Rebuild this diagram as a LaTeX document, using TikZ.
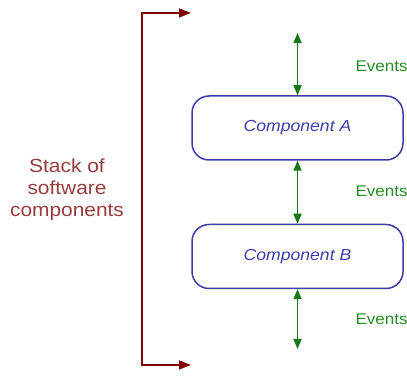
\documentclass[tikz,border=0pt]{standalone}
\usepackage{fontspec}
\setmainfont[FakeStretch=1.1]{Liberation Sans}
\usetikzlibrary{arrows.meta}
\usetikzlibrary{positioning}
\definecolor{stackred}{RGB}{128,0,0}
\definecolor{stacktext}{RGB}{150,60,60}
\definecolor{compblue}{RGB}{60,60,170}
\definecolor{eventgreen}{RGB}{20,120,20}
\definecolor{eventtext}{RGB}{40,140,40}
\tikzset{
    component/.style={draw=compblue, line width=1.5pt, rounded corners=17pt, minimum width=211pt, minimum height=64pt,
        text=compblue, font=\itshape\fontsize{16}{19}\selectfont},
    event/.style={{Triangle[length=10pt,width=8pt]}-{Triangle[length=10pt,width=8pt]}, eventgreen, line width=1.6pt},
    eventlabel/.style={anchor=west, text=eventtext, font=\fontsize{15.5}{18}\selectfont},
    stack/.style={{Triangle[length=12pt,width=9pt]}-{Triangle[length=12pt,width=9pt]}, stackred, line width=1.6pt},
}

\begin{document}
\begin{tikzpicture}[x=1pt, y=-1pt]
    \useasboundingbox (0,0) rectangle (407,379);

    % the stack bracket
    \coordinate (stack-top) at (191,13);
    \coordinate (spine-top) at (142,13);
    \coordinate (spine-bottom) at (142,365);
    \coordinate (stack-bottom) at (191,365);
    \node[align=center, text=stacktext, font=\fontsize{19}{22}\selectfont] (stack-label) at (67,190)
        {Stack of\\ software\\ components};

    % components
    \node[component] (compA) at (297.5,128) {Component A};
    \node[component, below=63pt of compA] (compB) {Component B};

    \coordinate (events-in) at (compA.north |- 0,33);
    \coordinate (events-out) at (compB.south |- 0,349);

    \node[eventlabel] (events-top) at (352,66) {Events};
    \node[eventlabel] (events-mid) at (352,191) {Events};
    \node[eventlabel] (events-bot) at (352,319) {Events};

    \draw[stack] (stack-top) -- (spine-top) -- (spine-bottom) -- (stack-bottom);

    \draw[event] (events-in) -- (compA.north);
    \draw[event] (compA.south) -- (compB.north);
    \draw[event] (compB.south) -- (events-out);
\end{tikzpicture}
\end{document}
